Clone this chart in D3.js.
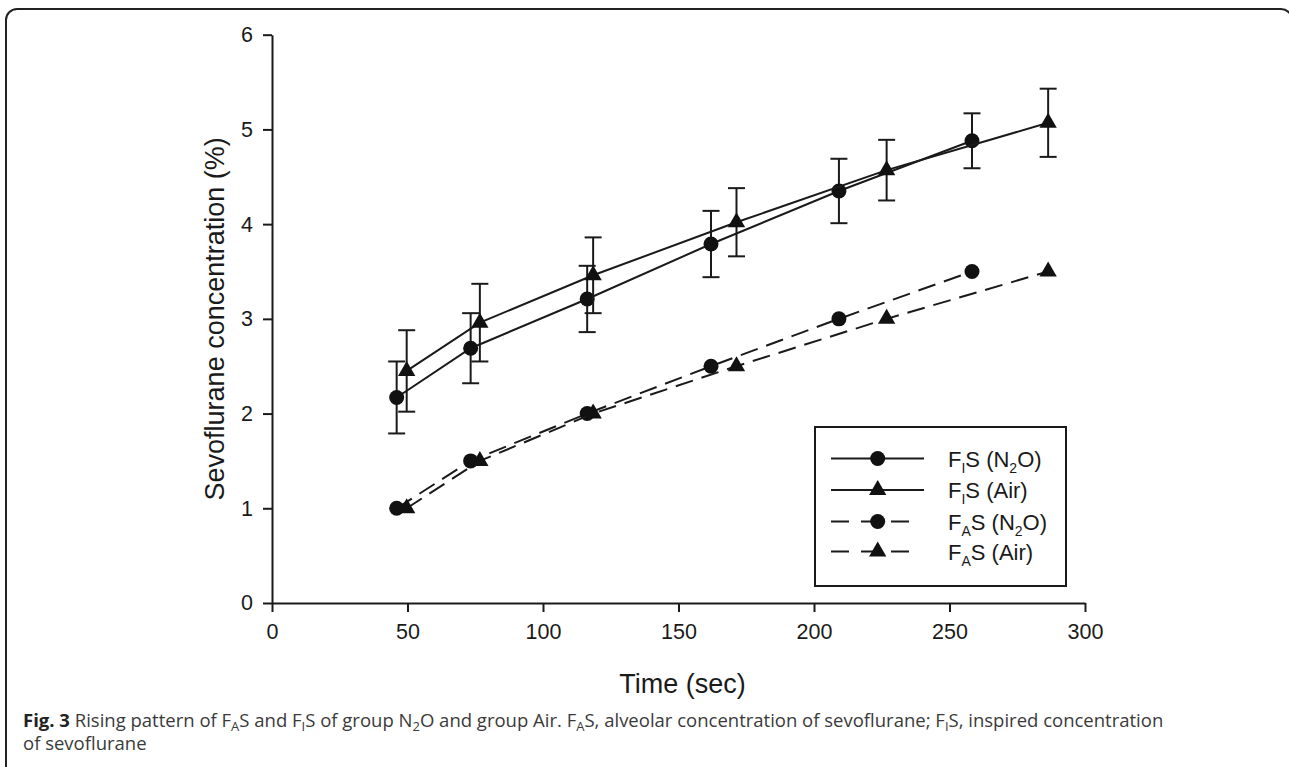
<!DOCTYPE html>
<html>
<head>
<meta charset="utf-8">
<script src="https://cdn.jsdelivr.net/npm/d3@7"></script>
<style>
  body { margin: 0; background: #fff; }
  svg { display: block; }
  .axis path, .axis line { stroke: #1a1a1a; stroke-width: 2; }
  .axis text { font-family: "Liberation Sans", Arial, sans-serif; font-size: 21.5px; fill: #1a1a1a; }
  .axis-label { font-family: "Liberation Sans", Arial, sans-serif; font-size: 27px; fill: #1a1a1a; }
  .legend-text { font-family: "Liberation Sans", Arial, sans-serif; font-size: 22px; fill: #1a1a1a; }
  .caption { font-family: "Open Sans", sans-serif; font-size: 18.5px; fill: #3a3a3a; }
</style>
</head>
<body>
<div id="chart"></div>
<script>
// time (sec) to reach each step
const timeN2O = [46, 73.3, 116.3, 162, 209.2, 258.3];
const timeAir = [49.7, 76.7, 118.5, 171.4, 226.8, 286.4];
// inspired concentration (mean, SD)
const fiN2O = [2.17, 2.69, 3.21, 3.79, 4.35, 4.88];
const fiN2OSd = [0.38, 0.37, 0.35, 0.35, 0.34, 0.29];
const fiAir = [2.45, 2.96, 3.46, 4.02, 4.57, 5.07];
const fiAirSd = [0.43, 0.41, 0.40, 0.36, 0.32, 0.36];
// alveolar concentration steps
const faN2O = [1.0, 1.5, 2.0, 2.5, 3.0, 3.5];
const faAir = [1.0, 1.5, 2.0, 2.5, 3.0, 3.5];

const xTicks = [0, 50, 100, 150, 200, 250, 300];
const yTicks = [0, 1, 2, 3, 4, 5, 6];

const series = [
  { name: 'FIS_N2O', sub: 'I', grp: 'N2O', x: timeN2O, y: fiN2O, sd: fiN2OSd, shape: 'circle', dashed: false },
  { name: 'FIS_Air', sub: 'I', grp: 'Air', x: timeAir, y: fiAir, sd: fiAirSd, shape: 'triangle', dashed: false },
  { name: 'FAS_N2O', sub: 'A', grp: 'N2O', x: timeN2O, y: faN2O, sd: null, shape: 'circle', dashed: true },
  { name: 'FAS_Air', sub: 'A', grp: 'Air', x: timeAir, y: faAir, sd: null, shape: 'triangle', dashed: true }
];

const W = 1289, H = 767;
const margin = { top: 34.7, left: 272 };
const width = 813, height = 568.3;

const root = d3.select('#chart').append('svg')
  .attr('width', W).attr('height', H);

// rounded frame of the figure box
root.append('rect')
  .attr('x', 6).attr('y', 9)
  .attr('width', 1286).attr('height', 800)
  .attr('rx', 11)
  .attr('fill', 'none')
  .attr('stroke', '#222')
  .attr('stroke-width', 2);

const svg = root.append('g')
  .attr('transform', `translate(${margin.left},${margin.top})`);

const xScale = d3.scaleLinear().domain([0, 300]).range([0, width]);
const yScale = d3.scaleLinear().domain([0, 6]).range([height, 0]);

svg.append('g')
  .attr('class', 'axis')
  .attr('transform', `translate(0,${height})`)
  .call(d3.axisBottom(xScale).tickValues(xTicks).tickFormat(d3.format('d')).tickSize(9).tickSizeOuter(0).tickPadding(12));

svg.append('g')
  .attr('class', 'axis')
  .call(d3.axisLeft(yScale).tickValues(yTicks).tickFormat(d3.format('d')).tickSize(9).tickSizeOuter(0).tickPadding(10));

svg.append('text')
  .attr('class', 'axis-label')
  .attr('x', width / 2 + 4)
  .attr('y', height + 90)
  .attr('text-anchor', 'middle')
  .text('Time (sec)');

svg.append('text')
  .attr('class', 'axis-label')
  .attr('transform', 'rotate(-90)')
  .attr('x', -height / 2)
  .attr('y', -48)
  .attr('text-anchor', 'middle')
  .text('Sevoflurane concentration (%)');

const line = d3.line()
  .x(d => xScale(d[0]))
  .y(d => yScale(d[1]));

const triangle = d3.symbol().type(d3.symbolTriangle).size(130);

function drawMarker(g, shape, cx, cy) {
  if (shape === 'circle') {
    g.append('circle').attr('cx', cx).attr('cy', cy).attr('r', 7.5).attr('fill', '#111');
  } else {
    g.append('path').attr('d', triangle()).attr('transform', `translate(${cx},${cy})`).attr('fill', '#111');
  }
}

series.forEach(s => {
  const pts = s.x.map((t, i) => [t, s.y[i]]);
  svg.append('path')
    .datum(pts)
    .attr('d', line)
    .attr('fill', 'none')
    .attr('stroke', '#1a1a1a')
    .attr('stroke-width', 2)
    .attr('stroke-dasharray', s.dashed ? '18,9' : null);

  if (s.sd) {
    const eb = svg.append('g').attr('stroke', '#1a1a1a').attr('stroke-width', 2);
    pts.forEach((p, i) => {
      const cx = xScale(p[0]);
      const top = yScale(p[1] + s.sd[i]);
      const bot = yScale(p[1] - s.sd[i]);
      eb.append('line').attr('x1', cx).attr('x2', cx).attr('y1', top).attr('y2', bot);
      eb.append('line').attr('x1', cx - 8.5).attr('x2', cx + 8.5).attr('y1', top).attr('y2', top);
      eb.append('line').attr('x1', cx - 8.5).attr('x2', cx + 8.5).attr('y1', bot).attr('y2', bot);
    });
  }

  const mk = svg.append('g');
  pts.forEach(p => drawMarker(mk, s.shape, xScale(p[0]), yScale(p[1])));
});

// legend
const lg = root.append('g');
lg.append('rect')
  .attr('x', 815).attr('y', 427)
  .attr('width', 251).attr('height', 159)
  .attr('fill', '#fff')
  .attr('stroke', '#1a1a1a')
  .attr('stroke-width', 2);

const rowY = [458.5, 490, 521.5, 551.5];
series.forEach((s, i) => {
  const y = rowY[i];
  lg.append('line')
    .attr('x1', 831).attr('x2', s.dashed ? 916 : 924)
    .attr('y1', y).attr('y2', y)
    .attr('stroke', '#1a1a1a').attr('stroke-width', 2)
    .attr('stroke-dasharray', s.dashed ? '18,12' : null);
  drawMarker(lg, s.shape, 877.7, y);
  const t = lg.append('text').attr('class', 'legend-text').attr('x', 948).attr('y', y + 8);
  t.append('tspan').text('F');
  t.append('tspan').attr('font-size', 14).attr('dy', 6).text(s.sub);
  t.append('tspan').attr('dy', -6).text('S (');
  if (s.grp === 'N2O') {
    t.append('tspan').text('N');
    t.append('tspan').attr('font-size', 14).attr('dy', 6).text('2');
    t.append('tspan').attr('dy', -6).text('O)');
  } else {
    t.append('tspan').text('Air)');
  }
});

// caption: pieces are [text, isSubscript]
const capParts = [
  [' Rising pattern of F', false], ['A', true], ['S and F', false], ['I', true],
  ['S of group N', false], ['2', true], ['O and group Air. F', false], ['A', true],
  ['S, alveolar concentration of sevoflurane; F', false], ['I', true],
  ['S, inspired concentration', false]
];
const cap = root.append('text').attr('class', 'caption').attr('x', 23).attr('y', 727);
cap.append('tspan').attr('font-weight', 700).attr('fill', '#222').text('Fig. 3');
let shifted = false;
capParts.forEach(([txt, isSub]) => {
  const ts = cap.append('tspan').text(txt);
  if (isSub) { ts.attr('font-size', 13).attr('dy', 4); shifted = true; }
  else if (shifted) { ts.attr('dy', -4); shifted = false; }
});

root.append('text').attr('class', 'caption').attr('x', 23).attr('y', 750).text('of sevoflurane');
</script>
</body>
</html>
